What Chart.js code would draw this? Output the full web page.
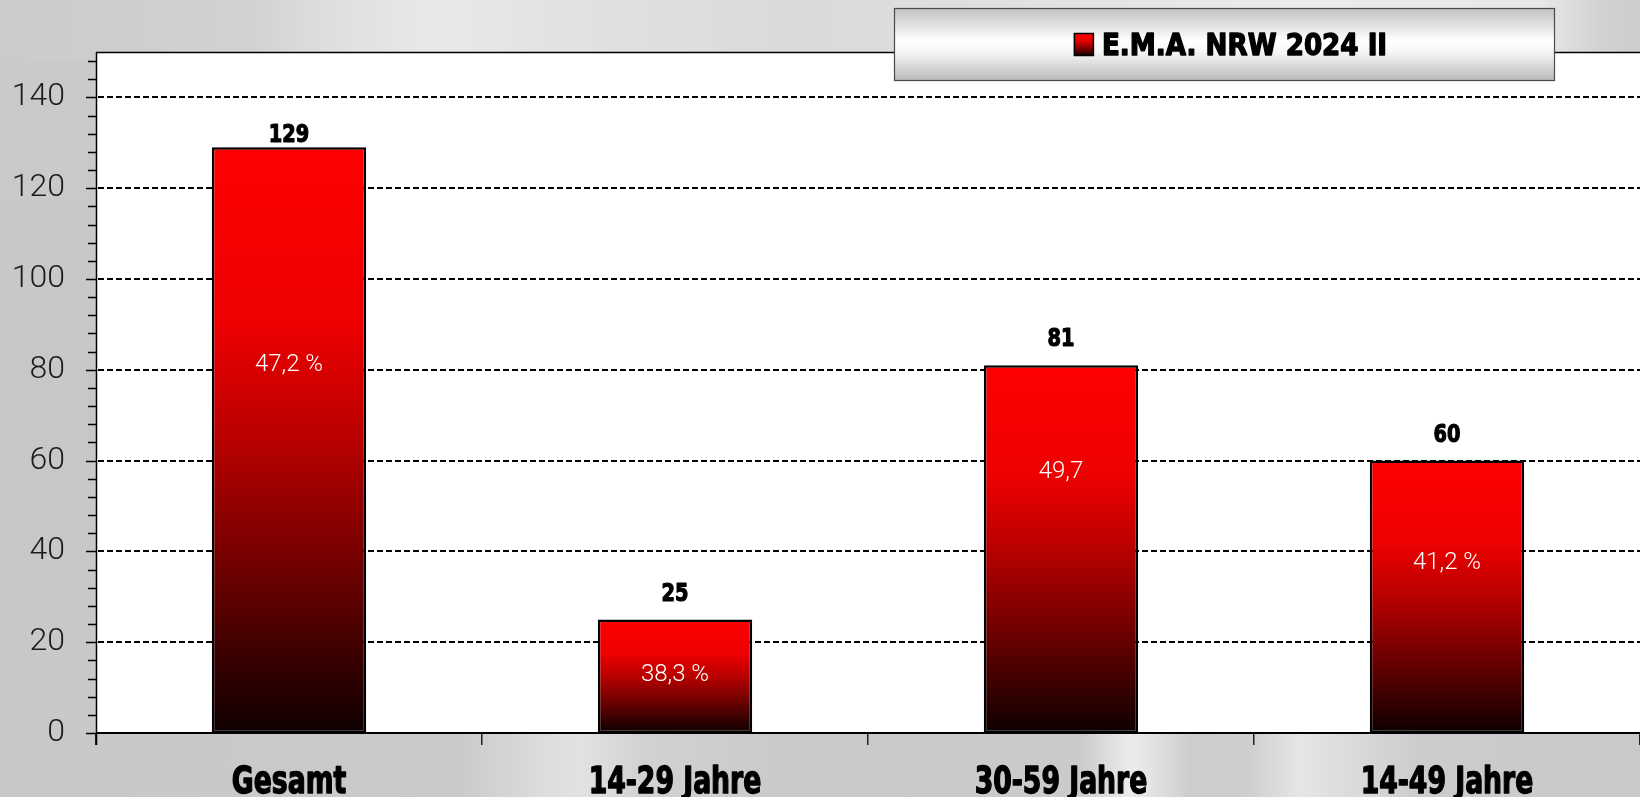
<!DOCTYPE html>
<html><head><meta charset="utf-8">
<script src="https://cdn.jsdelivr.net/npm/chart.js@4.4.1/dist/chart.umd.min.js"></script>
<style>
html,body{margin:0;padding:0;width:1640px;height:797px;overflow:hidden;}
body{
background:
 linear-gradient(to right, #cbcbcb 0px, #d2d2d2 250px, #e0e0e0 340px, #e9e9e9 440px, #e2e2e2 560px, #dadada 800px, #e0e0e0 1000px, #ececec 1300px, #e8e8e8 1540px, #d2d2d2 1600px, #cdcdcd 1640px) 0 0 / 1640px 60px no-repeat,
 linear-gradient(to right, #c8c8c8 0px, #cacaca 460px, #dcdcdc 540px, #e2e2e2 580px, #d2d2d2 640px, #c9c9c9 800px, #cbcbcb 1080px, #ececec 1130px, #e4e4e4 1150px, #cdcdcd 1190px, #cfcfcf 1250px, #e6e6e6 1300px, #dddddd 1340px, #cccccc 1420px, #c9c9c9 1640px) 0 730px / 1640px 67px no-repeat,
 linear-gradient(to bottom, #cbcbcb 0%, #c7c7c7 50%, #c9c9c9 100%);
}
canvas{display:block;}
</style></head><body>
<canvas id="c" width="1640" height="797"></canvas>
<script>
// ---- data ----
const categories = ['Gesamt', '14-29 Jahre', '30-59 Jahre', '14-49 Jahre'];
const seriesName = 'E.M.A. NRW 2024 II';
const values = [129, 25, 81, 60];
const shareLabels = ['47,2 %', '38,3 %', '49,7', '41,2 %'];
const yTickValues = [0, 20, 40, 60, 80, 100, 120, 140];

// ---- helpers ----
const BOLD_FAMILY = '"DejaVu Sans Condensed", "DejaVu Sans", sans-serif';
const LIGHT_FAMILY = 'Roboto, "Open Sans", sans-serif';
function drawCondensed(ctx, text, x, y, size, sx, align, heavy) {
  ctx.save();
  ctx.font = 'bold ' + size + 'px ' + BOLD_FAMILY;
  ctx.textBaseline = 'alphabetic';
  ctx.textAlign = 'left';
  const w = ctx.measureText(text).width * sx;
  const left = align === 'center' ? x - w / 2 : (align === 'right' ? x - w : x);
  ctx.translate(left, y);
  ctx.scale(sx, 1);
  ctx.fillStyle = '#000';
  ctx.fillText(text, 0, 0);
  if (heavy) {
    ctx.strokeStyle = '#000';
    ctx.lineJoin = 'round';
    ctx.lineWidth = heavy;
    ctx.strokeText(text, 0, 0);
  }
  ctx.restore();
  return w;
}
function redGradient(ctx, top, bottom) {
  const g = ctx.createLinearGradient(0, top, 0, bottom);
  g.addColorStop(0, '#ff0000');
  g.addColorStop(0.3, '#ee0000');
  g.addColorStop(0.5, '#b80000');
  g.addColorStop(0.7, '#760000');
  g.addColorStop(0.86, '#3e0000');
  g.addColorStop(1, '#0e0000');
  return g;
}

const decor = {
  id: 'decor',
  beforeDraw(chart) {
    const {ctx, chartArea: a} = chart;
    ctx.save();
    ctx.fillStyle = '#ffffff';
    ctx.fillRect(a.left, a.top, a.right - a.left, a.bottom - a.top);
    ctx.restore();
  },
  beforeDatasetsDraw(chart) {
    const {ctx, chartArea: a, scales: {y}} = chart;
    ctx.save();
    ctx.strokeStyle = '#000';
    ctx.lineWidth = 2;
    ctx.setLineDash([6, 3]);
    yTickValues.forEach(v => {
      if (v === 0) return;
      const py = Math.round(y.getPixelForValue(v));
      ctx.beginPath(); ctx.moveTo(a.left + 2, py); ctx.lineTo(a.right, py); ctx.stroke();
    });
    ctx.restore();
  },
  afterDatasetsDraw(chart) {
    const {ctx, chartArea: a, scales: {x, y}} = chart;
    const opts = chart.options.plugins.decor;
    ctx.save();
    ctx.strokeStyle = '#000';
    ctx.lineWidth = 1.5;
    ctx.beginPath(); ctx.moveTo(a.left, a.top + 0.5); ctx.lineTo(a.right, a.top + 0.5); ctx.stroke();
    ctx.beginPath(); ctx.moveTo(a.left + 0.5, a.top); ctx.lineTo(a.left + 0.5, a.bottom + 12); ctx.stroke();
    ctx.lineWidth = 2;
    ctx.beginPath(); ctx.moveTo(a.left, a.bottom); ctx.lineTo(a.right, a.bottom); ctx.stroke();
    ctx.lineWidth = 1.5;
    for (let v = y.min; v <= y.max - 1; v += 4) {
      const py = Math.round(y.getPixelForValue(v)) + 0.5;
      const len = (v % 20 === 0) ? 10 : 8;
      ctx.beginPath(); ctx.moveTo(a.left - len, py); ctx.lineTo(a.left, py); ctx.stroke();
    }
    ctx.restore();

    const meta = chart.getDatasetMeta(0);
    meta.data.forEach((bar, i) => {
      const v = values[i];
      const gap = v > 0.85 * y.max ? 5 : 19;
      drawCondensed(ctx, String(v), bar.x, bar.y - gap, 25, 0.86, 'center', 1.2);
      ctx.save();
      ctx.font = '300 24px ' + LIGHT_FAMILY;
      ctx.fillStyle = '#ffffff';
      ctx.textAlign = 'center';
      ctx.textBaseline = 'middle';
      ctx.fillText(shareLabels[i], bar.x, y.getPixelForValue(opts.shareAnchors[i]));
      ctx.restore();
    });

    categories.forEach((c, i) => {
      drawCondensed(ctx, c, x.getPixelForValue(i), 793, 38, 0.78, 'center', 1.4);
    });

    const L = opts.legendBox;
    ctx.save();
    const lg = ctx.createLinearGradient(0, L.y, 0, L.y + L.h);
    lg.addColorStop(0, '#c0c0c0');
    lg.addColorStop(0.45, '#ffffff');
    lg.addColorStop(0.6, '#f6f6f6');
    lg.addColorStop(1, '#bababa');
    ctx.fillStyle = lg;
    ctx.fillRect(L.x, L.y, L.w, L.h);
    ctx.strokeStyle = '#4a4a4a';
    ctx.lineWidth = 1.2;
    ctx.strokeRect(L.x + 0.5, L.y + 0.5, L.w - 1, L.h - 1);
    ctx.font = 'bold 30px ' + BOLD_FAMILY;
    const sx = 0.97;
    const tw = ctx.measureText(seriesName).width * sx;
    const sq = 20, sqH = 23, gapT = 8;
    const total = sq + gapT + tw;
    const startX = L.x + (L.w - total) / 2 + 6;
    const sqTop = 33;
    ctx.fillStyle = redGradient(ctx, sqTop, sqTop + sqH);
    ctx.fillRect(startX, sqTop, sq, sqH);
    ctx.strokeStyle = '#000';
    ctx.lineWidth = 1.5;
    ctx.strokeRect(startX + 0.5, sqTop + 0.5, sq - 1, sqH - 1);
    ctx.restore();
    drawCondensed(ctx, seriesName, startX + sq + gapT, 55, 30, sx, 'left', 1.3);
  }
};

new Chart(document.getElementById('c'), {
  type: 'bar',
  data: {
    labels: categories,
    datasets: [{
      label: seriesName,
      data: values,
      backgroundColor(context) {
        const chart = context.chart;
        if (!chart.chartArea) return '#ff0000';
        const ys = chart.scales.y;
        const top = ys.getPixelForValue(context.raw);
        const bottom = ys.getPixelForValue(0);
        return redGradient(chart.ctx, top, bottom);
      },
      borderColor: '#000',
      borderWidth: 2.5,
      borderSkipped: false,
      barPercentage: 0.4,
      categoryPercentage: 1.0
    }]
  },
  options: {
    responsive: false,
    animation: false,
    devicePixelRatio: 1,
    layout: {padding: {top: 52, left: 0, right: 0, bottom: 0}},
    plugins: {
      legend: {display: false},
      tooltip: {enabled: false},
      decor: {
        shareAnchors: [81, 12.8, 57.5, 37.4],
        legendBox: {x: 894, y: 8, w: 661, h: 73}
      }
    },
    scales: {
      x: {
        offset: true,
        grid: {display: true, drawOnChartArea: false, drawTicks: true, tickLength: 12, color: '#222', lineWidth: 1.5, offset: true},
        border: {display: false},
        ticks: {display: false},
        afterFit(s) { s.height = 64; }
      },
      y: {
        min: 0, max: 150,
        grid: {display: false, drawTicks: false},
        border: {display: false},
        ticks: {
          stepSize: 20,
          padding: 31,
          color: '#1c1c1c',
          font: {family: LIGHT_FAMILY, size: 32, weight: 300},
          callback: v => (yTickValues.includes(v) ? String(v) : '')
        },
        afterFit(s) { s.width = 96; }
      }
    }
  },
  plugins: [decor]
});
</script>
</body></html>
